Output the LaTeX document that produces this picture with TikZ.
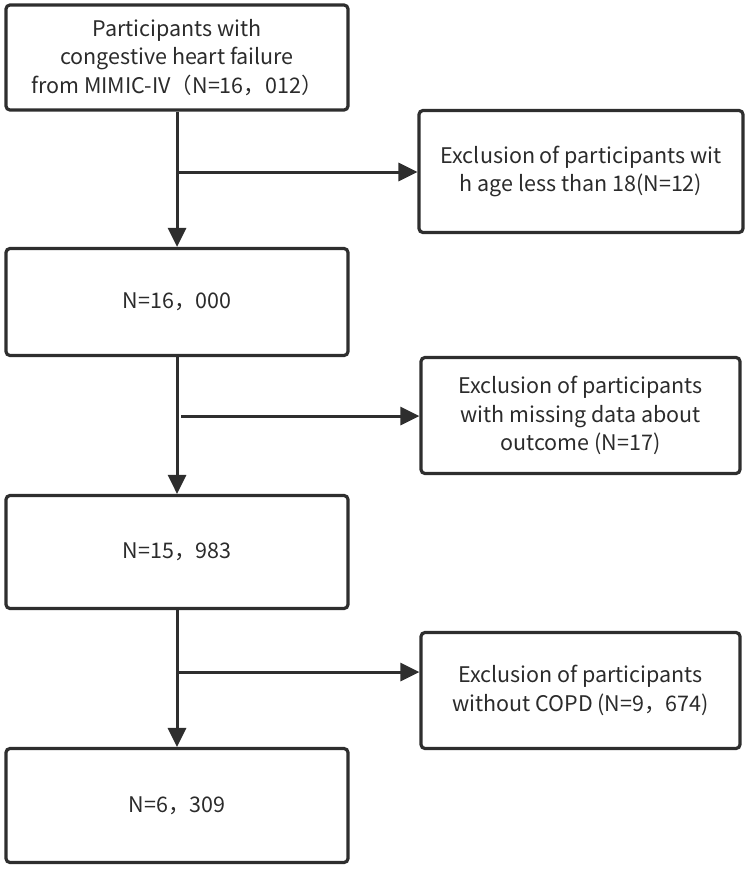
\documentclass[tikz,border=0pt]{standalone}
\usepackage{fontspec}
\setmainfont{Noto Sans CJK SC}
\usetikzlibrary{arrows.meta}
\definecolor{linegray}{HTML}{2E2E2E}
\definecolor{textgray}{HTML}{2B2B2B}
\begin{document}
\begin{tikzpicture}[x=1pt,y=1pt,
	box/.style={draw=linegray, line width=3.2pt, rounded corners=4pt, align=center, text=textgray, font=\fontsize{21.5}{28.5}\selectfont, inner sep=2pt},
	arr/.style={draw=linegray, line width=3pt, -{Triangle[length=19pt,width=18pt]}}]
	
	\useasboundingbox (0,0) rectangle (750,-872);
	
	\node[box, minimum width=342pt, minimum height=105pt] (n1) at (177,-57.5) {Participants with\\congestive heart failure\\from MIMIC-IV（N=16，012）};
	\node[box, minimum width=342pt, minimum height=107pt] (n2) at (177,-302) {N=16，000};
	\node[box, minimum width=342pt, minimum height=113pt] (n3) at (177,-552) {N=15，983};
	\node[box, minimum width=342pt, minimum height=114pt] (n4) at (177,-805.5) {N=6，309};
	
	\node[box, minimum width=324pt, minimum height=122pt] (e1) at (581,-171.5) {Exclusion of participants wit\\h age less than 18(N=12)};
	\node[box, minimum width=319pt, minimum height=116pt] (e2) at (580.5,-415.5) {Exclusion of participants\\with missing data about\\outcome (N=17)};
	\node[box, minimum width=319pt, minimum height=116pt] (e3) at (580.5,-690.5) {Exclusion of participants\\without COPD (N=9，674)};
	
	\coordinate (b1) at (177,-172);
	\coordinate (b2) at (181,-416);
	\coordinate (b3) at (177,-672);
	
	\path (n1) edge[arr] (n2);
	\path (n2) edge[arr] (n3);
	\path (n3) edge[arr] (n4);
	\path (b1) edge[arr] (b1 -| e1.west);
	\path (b2) edge[arr] (b2 -| e2.west);
	\path (b3) edge[arr] (b3 -| e3.west);
	
\end{tikzpicture}
\end{document}
